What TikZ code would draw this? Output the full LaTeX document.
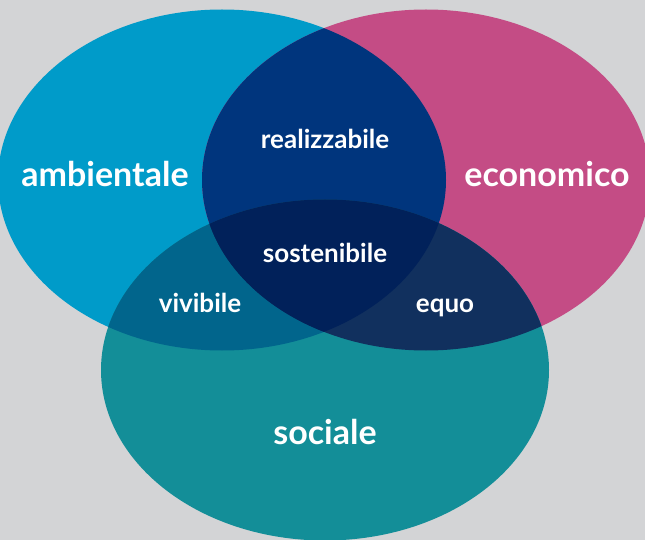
\documentclass[tikz,border=0pt]{standalone}
\usepackage{fontspec}
\setmainfont{Lato}
\definecolor{sfondo}{RGB}{211,212,214}
\definecolor{blu}{RGB}{0,155,201}
\definecolor{rosa}{RGB}{196,76,133}
\definecolor{verde}{RGB}{19,142,152}
\definecolor{bluRosa}{RGB}{0,53,125}
\definecolor{bluVerde}{RGB}{1,101,140}
\definecolor{rosaVerde}{RGB}{17,48,94}
\definecolor{tutti}{RGB}{1,33,90}
\tikzset{
  grande/.style={text=white,anchor=base,font=\bfseries\fontsize{34}{38}\selectfont},
  piccolo/.style={text=white,anchor=base,font=\bfseries\fontsize{26}{30}\selectfont}
}
\def\ambiente{(222,180) ellipse [x radius=224pt, y radius=170.5pt]}
\def\economia{(426,180) ellipse [x radius=224pt, y radius=170.5pt]}
\def\societa{(325,370) ellipse [x radius=224pt, y radius=170.5pt]}
\begin{document}
\begin{tikzpicture}[x=1pt,y=-1pt]
                \fill[sfondo] (0,0) rectangle (645,540);
                \useasboundingbox (0,0) rectangle (645,540);
                % i tre cerchi
                \fill[blu] \ambiente;
                \fill[rosa] \economia;
                \fill[verde] \societa;
                % intersezioni
                \begin{scope}
                    \clip \ambiente;
                    \fill[bluRosa] \economia;
                    \fill[bluVerde] \societa;
                \end{scope}
                \begin{scope}
                    \clip \economia;
                    \fill[rosaVerde] \societa;
                \end{scope}
                \begin{scope}
                    \clip \ambiente;
                    \clip \economia;
                    \fill[tutti] \societa;
                \end{scope}
                % testi
                \node[grande] (amb) at (105,187) {ambientale};
                \node[grande] (eco) at (547,187) {economico};
                \node[grande] (soc) at (325,444) {sociale};
                \node[piccolo] (rea) at (325,149) {realizzabile};
                \node[piccolo] (sos) at (325,262) {sostenibile};
                \node[piccolo] (viv) at (200,312) {vivibile};
                \node[piccolo] (equ) at (445,312) {equo};
\end{tikzpicture}
\end{document}
